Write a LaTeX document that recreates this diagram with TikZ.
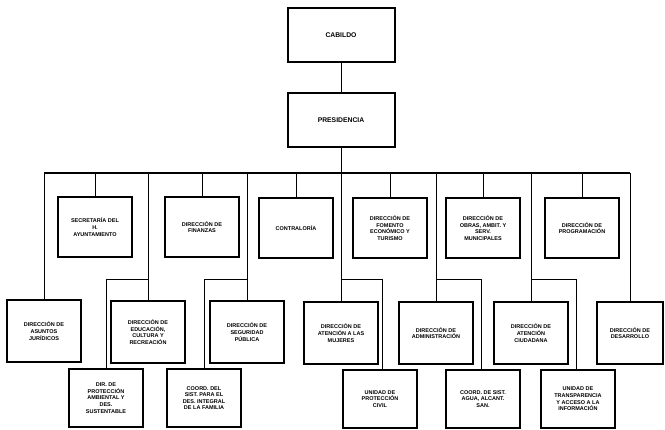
\documentclass[tikz,border=0pt]{standalone}
\usepackage{fontspec}
\setmainfont{Liberation Sans}
\usetikzlibrary{positioning}

\tikzset{
  unit/.style={draw,line width=2pt,align=center,inner sep=1pt,
    minimum width=74pt,minimum height=60pt,
    font=\fontsize{5.5}{6.6}\selectfont\bfseries},
  head/.style={unit,minimum width=107pt,minimum height=54pt,
    font=\fontsize{6.8}{7.5}\selectfont\bfseries},
  link/.style={line width=0.7pt},
  busline/.style={line width=1.5pt}
}

\begin{document}
\begin{tikzpicture}[x=1pt,y=-1pt]
    \useasboundingbox (0,0) rectangle (665,430);
    % cabeza
    \node[head](cabildo) at (341,35){CABILDO};
    \node[head](presid) at (341,120){PRESIDENCIA};
    % primer nivel
    \node[unit](secre) at (95,227){SECRETARÍA DEL\\H.\\AYUNTAMIENTO};
    \node[unit](finan) at (202,227){DIRECCIÓN DE\\FINANZAS};
    \node[unit](contra) at (296,228){CONTRALORÍA};
    \node[unit](fomento) at (390,228){DIRECCIÓN DE\\FOMENTO\\ECONÓMICO Y\\TURISMO};
    \node[unit](obras) at (483,228){DIRECCIÓN DE\\OBRAS, AMBIT. Y\\SERV.\\MUNICIPALES};
    \node[unit](progra) at (582,228){DIRECCIÓN DE\\PROGRAMACIÓN};
    % segundo nivel
    \node[unit,minimum height=62pt](juridicos) at (44,331){DIRECCIÓN DE\\ASUNTOS\\JURÍDICOS};
    \node[unit,minimum height=62pt](educa) at (148,332){DIRECCIÓN DE\\EDUCACIÓN,\\CULTURA Y\\RECREACIÓN};
    \node[unit,minimum height=62pt](segur) at (247,332){DIRECCIÓN DE\\SEGURIDAD\\PÚBLICA};
    \node[unit,minimum height=62pt](mujeres) at (341,333){DIRECCIÓN DE\\ATENCIÓN A LAS\\MUJERES};
    \node[unit,minimum height=62pt](admin) at (436,333){DIRECCIÓN DE\\ADMINISTRACIÓN};
    \node[unit,minimum height=62pt](ciudad) at (531,333){DIRECCIÓN DE\\ATENCIÓN\\CIUDADANA};
    \node[unit,minimum height=62pt,minimum width=66pt](desarr) at (630,333){DIRECCIÓN DE\\DESARROLLO};
    % tercer nivel
    \node[unit,minimum height=58pt](protec) at (106,398){DIR. DE\\PROTECCIÓN\\AMBIENTAL Y\\DES.\\SUSTENTABLE};
    \node[unit,minimum height=58pt](dif) at (204,398){COORD. DEL\\SIST. PARA EL\\DES. INTEGRAL\\DE LA FAMILIA};
    \node[unit,minimum height=58pt](civil) at (380,399){UNIDAD DE\\PROTECCIÓN\\CIVIL};
    \node[unit,minimum height=58pt](agua) at (483,399){COORD. DE SIST.\\AGUA, ALCANT.\\SAN.};
    \node[unit,minimum height=58pt](transp) at (578,399){UNIDAD DE\\TRANSPARENCIA\\Y ACCESO A LA\\INFORMACIÓN};
    % lineas
    \coordinate (bus) at (0,173);
    \coordinate (fork) at (0,279);
    \draw[link](cabildo)--(presid);
    \draw[busline](juridicos.north |- bus)--(desarr.north |- bus);
    \draw[link](presid)--(mujeres);
    \foreach \n in {secre,finan,contra,fomento,obras,progra}
      \draw[link](\n.north)--(\n.north |- bus);
    \foreach \n in {juridicos,educa,segur,admin,ciudad,desarr}
      \draw[link](\n.north)--(\n.north |- bus);
    \draw[link](educa.north |- fork)-|(protec.north);
    \draw[link](segur.north |- fork)-|(dif.north);
    \draw[link](mujeres.north |- fork)-|([xshift=2pt]civil.north);
    \draw[link](admin.north |- fork)-|([xshift=-2pt]agua.north);
    \draw[link](ciudad.north |- fork)-|([xshift=-2pt]transp.north);
\end{tikzpicture}
\end{document}
